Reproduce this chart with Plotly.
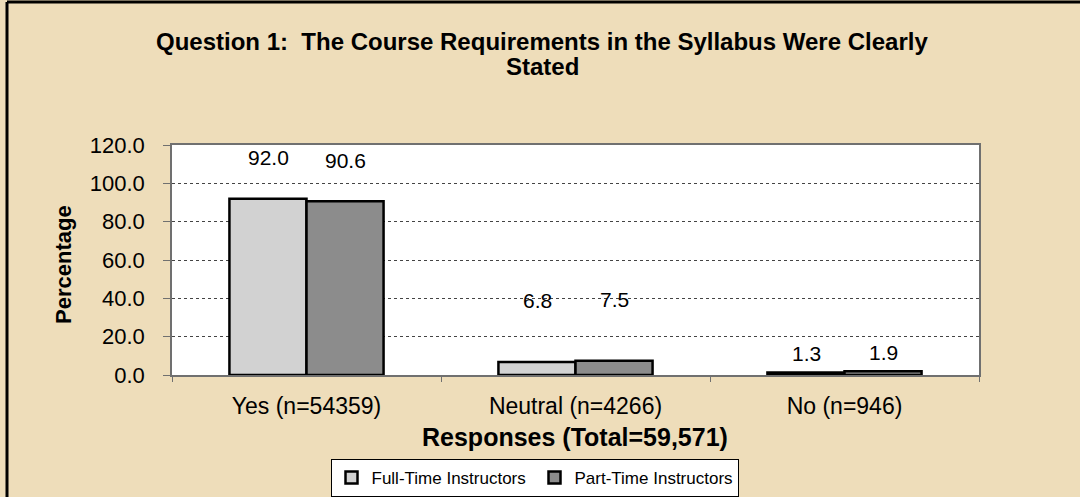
import plotly.graph_objects as go

categories = ["Yes (n=54359)", "Neutral (n=4266)", "No (n=946)"]
full_time = [92.0, 6.8, 1.3]
part_time = [90.6, 7.5, 1.9]
series_names = ["Full-Time Instructors", "Part-Time Instructors"]
y_ticks = [0, 20, 40, 60, 80, 100, 120]

title_lines = ["Question 1:  The Course Requirements in the Syllabus Were Clearly", "Stated"]
x_title = "Responses (Total=59,571)"
y_title = "Percentage"

FONT = "Liberation Sans, Arial, sans-serif"
BG = "#EEDDBA"
colors = ["#D2D2D2", "#8C8C8C"]
label_shift = [41, 61, 19]   # pixel lift of value labels per category
bar_half = 38.5              # pixel offset of each bar centre from category centre

# plot area geometry in pixels
L, R, T, B = 172, 979, 145, 375
PW, PH = R - L, B - T


def px(xpix):
    return (xpix - L) / PW


def py(ypix):
    return (B - ypix) / PH


fig = go.Figure()
for name, vals, col in zip(series_names, [full_time, part_time], colors):
    fig.add_trace(go.Bar(
        x=categories, y=vals, name=name,
        marker=dict(color=col, line=dict(color="black", width=2.5)),
    ))

for si, vals in enumerate([full_time, part_time]):
    for ci, (cat, v) in enumerate(zip(categories, vals)):
        fig.add_annotation(
            x=cat, y=v, xref="x", yref="y", text=f"{v:.1f}", showarrow=False,
            xshift=(-bar_half if si == 0 else bar_half), yshift=label_shift[ci],
            yanchor="middle",
            font=dict(family=FONT, size=21, color="black"),
        )

# title lines
for line, ypix in zip(title_lines, [42, 66]):
    fig.add_annotation(x=px(542), y=py(ypix), xref="paper", yref="paper",
                       text=f"<b>{line}</b>", showarrow=False,
                       xanchor="center", yanchor="middle",
                       font=dict(family=FONT, size=24, color="black"))
# axis titles
fig.add_annotation(x=px(575), y=py(437), xref="paper", yref="paper",
                   text=f"<b>{x_title}</b>", showarrow=False,
                   xanchor="center", yanchor="middle",
                   font=dict(family=FONT, size=25, color="black"))
fig.add_annotation(x=px(63), y=py(265), xref="paper", yref="paper",
                   text=f"<b>{y_title}</b>", showarrow=False, textangle=-90,
                   xanchor="center", yanchor="middle",
                   font=dict(family=FONT, size=22, color="black"))

# outer frame lines (top and left)
fig.add_shape(type="line", xref="paper", yref="paper",
              x0=px(7), x1=px(1085), y0=py(2), y1=py(2),
              line=dict(color="black", width=3))
fig.add_shape(type="line", xref="paper", yref="paper",
              x0=px(7), x1=px(7), y0=py(2), y1=py(500),
              line=dict(color="black", width=3))

fig.update_layout(
    width=1080, height=497,
    margin=dict(l=L, r=1080 - R, t=T, b=497 - B, autoexpand=False),
    paper_bgcolor=BG, plot_bgcolor="white",
    barmode="group", bargap=0.427, bargroupgap=0,
    font=dict(family=FONT, size=22, color="black"),
    showlegend=True,
    legend=dict(orientation="h", x=534.5 / 1080, xref="container", xanchor="center",
                y=1 - 459 / 497, yref="container", yanchor="top",
                bgcolor="white", bordercolor="black", borderwidth=1,
                font=dict(family=FONT, size=17, color="black"),
                entrywidth=158, itemwidth=30, traceorder="normal"),
)

fig.update_yaxes(
    range=[0, 120], tickvals=y_ticks, tickformat=".1f", automargin=False,
    showgrid=True, gridcolor="#444444", griddash="dot", gridwidth=1,
    showline=True, linecolor="#707070", linewidth=1.5, mirror=True,
    ticks="outside", ticklen=7, tickcolor="#707070", ticklabelstandoff=14,
    tickfont=dict(family=FONT, size=22, color="black"),
    zeroline=False,
)
fig.update_xaxes(
    automargin=False,
    showline=True, linecolor="#707070", linewidth=1.5, mirror=True,
    ticks="outside", ticklen=5, tickcolor="#707070", tickson="boundaries",
    ticklabelstandoff=10,
    tickfont=dict(family=FONT, size=23, color="black"),
)

fig.write_html("out.html", config={"displayModeBar": False},
               post_script="document.body.style.margin='0';")
